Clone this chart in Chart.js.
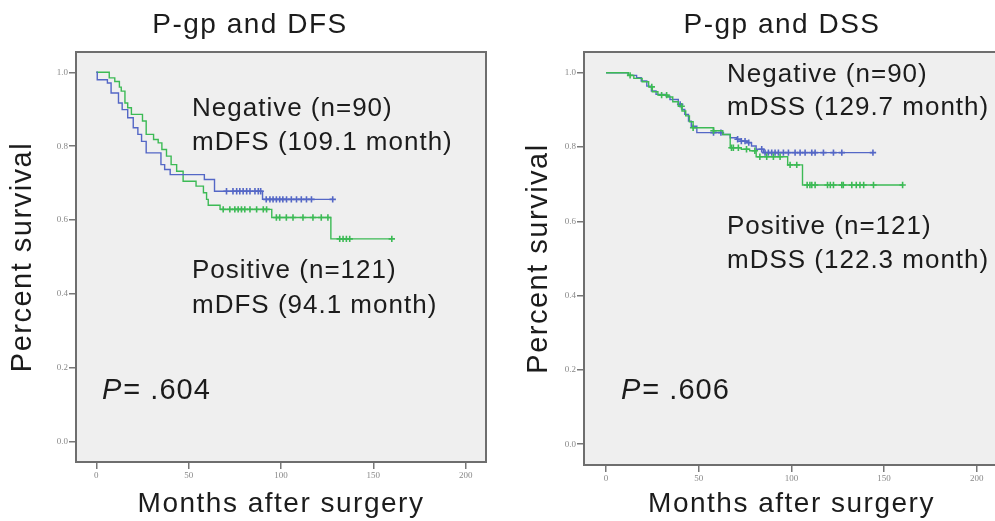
<!DOCTYPE html>
<html>
<head>
<meta charset="utf-8">
<title>P-gp survival curves</title>
<script src="https://cdn.jsdelivr.net/npm/chart.js@4.4.1/dist/chart.umd.min.js"></script>
<style>
  html, body { margin: 0; padding: 0; background: #fff; overflow: hidden; }
  #wrap { position: relative; width: 995px; height: 521px; overflow: hidden; }
  canvas { position: absolute; top: 0; }
  #dfsChart { left: 0; }
  #dssChart { left: 497px; }
</style>
</head>
<body>
<div id="wrap">
  <canvas id="dfsChart" width="497" height="521"></canvas>
  <canvas id="dssChart" width="510" height="521"></canvas>
</div>
<script>
// Kaplan-Meier curves: step times (months) and survival after each step.

const xTicks = [0, 50, 100, 150, 200];
const yTicks = [0, 0.2, 0.4, 0.6, 0.8, 1.0];

// DFS, P-gp negative (blue)
const dfsNegTime = [0, 0.5, 6, 8, 12, 14, 17, 20, 22.5, 24.5, 27, 35, 37, 40, 58.5, 64, 90, 128];
const dfsNegSurv = [1.0, 0.98, 0.971, 0.944, 0.917, 0.899, 0.877, 0.85, 0.832, 0.813, 0.782, 0.75, 0.737, 0.723, 0.71, 0.678, 0.656, 0.656];
const dfsNegCensor = [70.5, 74, 76, 77.7, 79.5, 81.4, 83.2, 85.9, 87.7, 89, 92, 94, 95.7, 97.5, 99.3, 101, 103, 105.6, 108.4, 111, 113.8, 116.5, 128];

// DFS, P-gp positive (green)
const dfsPosTime = [0, 7, 10, 12.5, 13.5, 15.5, 17, 19, 25, 27, 31, 33.5, 35.5, 38, 40.5, 43.5, 47, 54, 58, 59.7, 60.6, 67, 95, 127, 160];
const dfsPosSurv = [1.0, 0.985, 0.975, 0.96, 0.949, 0.917, 0.904, 0.886, 0.868, 0.832, 0.818, 0.809, 0.791, 0.773, 0.75, 0.732, 0.705, 0.692, 0.674, 0.656, 0.64, 0.629, 0.607, 0.549, 0.549];
const dfsPosCensor = [68.7, 72.3, 75, 76.8, 78.6, 80.4, 83.2, 86.8, 90.4, 92.2, 97.5, 99.3, 102.9, 106.5, 111.9, 117.3, 121.8, 125.4, 131.8, 133.6, 135.4, 137.2, 160];

// DSS, P-gp negative (blue)
const dssNegTime = [0, 12, 16.5, 19, 22, 24.5, 27, 32.5, 34.5, 39, 41, 42.5, 44.5, 46, 49, 63, 67, 70.5, 73, 76, 78.5, 81, 85, 144];
const dssNegSurv = [1.0, 0.993, 0.987, 0.978, 0.964, 0.951, 0.942, 0.937, 0.928, 0.915, 0.901, 0.888, 0.87, 0.856, 0.839, 0.834, 0.825, 0.821, 0.816, 0.812, 0.803, 0.794, 0.785, 0.785];
const dssNegCensor = [40, 58, 62, 71, 73, 75, 77, 84, 85.8, 87.6, 89.4, 91.2, 93, 95.7, 98.4, 102, 104.7, 107.4, 111, 112.8, 117.3, 122.7, 127.2, 144];

// DSS, P-gp positive (green)
const dssPosTime = [0, 12, 15, 19.5, 23, 25, 28, 33, 36, 39, 41, 43, 45, 47, 58, 63, 67, 73, 77.5, 81, 98, 106, 160];
const dssPosSurv = [1.0, 0.993, 0.985, 0.976, 0.962, 0.949, 0.94, 0.935, 0.922, 0.91, 0.897, 0.884, 0.868, 0.852, 0.844, 0.834, 0.798, 0.794, 0.79, 0.774, 0.752, 0.698, 0.698];
const dssPosCensor = [13, 24.7, 30, 32.7, 40.8, 47, 58, 67.7, 68.7, 71.4, 75.8, 80.3, 83, 86.7, 90.3, 93.9, 99.3, 102.9, 108.5, 110, 111, 112.8, 119.5, 121, 122.7, 127.2, 128, 132.6, 135, 137, 139, 144.3, 160];

const BLUE = "#5467c6";
const GREEN = "#3cba55";
const SANS = '"Liberation Sans", Arial, sans-serif';

const survAt = (times, survs, t) => {
  let s = survs[0];
  for (let i = 0; i < times.length; i++) {
    if (times[i] <= t) s = survs[i];
  }
  return s;
};

const stepData = (times, survs) => times.map((t, i) => ({ x: t, y: survs[i] }));
const censorData = (times, survs, cens) => cens.map((t) => ({ x: t, y: survAt(times, survs, t) }));

const curve = (label, times, survs, color) => ({
  type: "line",
  label,
  data: stepData(times, survs),
  stepped: "before",
  borderColor: color,
  borderWidth: 1.4,
  pointRadius: 0,
  fill: false,
});

const marks = (label, times, survs, cens, color) => ({
  type: "scatter",
  label,
  data: censorData(times, survs, cens),
  pointStyle: "cross",
  pointRadius: 3.2,
  borderColor: color,
  borderWidth: 1.6,
});

// grey plot panel with a dark frame, as in the SPSS output
const framePlugin = {
  id: "frame",
  beforeDraw(chart) {
    const { ctx, chartArea: a } = chart;
    ctx.letterSpacing = "1.5px";
    ctx.save();
    ctx.fillStyle = "#efefef";
    ctx.fillRect(a.left, a.top, a.right - a.left, a.bottom - a.top);
    ctx.restore();
  },
  afterDatasetsDraw(chart) {
    const { ctx, chartArea: a } = chart;
    ctx.save();
    ctx.strokeStyle = "#6e6e6e";
    ctx.lineWidth = 2;
    ctx.strokeRect(a.left, a.top, a.right - a.left, a.bottom - a.top);
    ctx.restore();
    ctx.letterSpacing = "0px";
  },
};

const textPlugin = {
  id: "panelText",
  afterDraw(chart, args, o) {
    const ctx = chart.ctx;
    ctx.save();
    ctx.fillStyle = "#1c1c1c";
    ctx.textBaseline = "alphabetic";
    ctx.letterSpacing = "1.5px";
    ctx.font = "28px " + SANS;
    ctx.textAlign = "center";
    ctx.fillText(o.title, o.titleX, o.titleY);

    ctx.textAlign = "left";
    ctx.letterSpacing = "1px";
    ctx.font = "26px " + SANS;
    o.notes.forEach((n) => ctx.fillText(n[0], n[1], n[2]));

    ctx.font = "italic 29px " + SANS;
    ctx.fillText("P", o.pX, o.pY);
    const w = ctx.measureText("P").width;
    ctx.font = "29px " + SANS;
    ctx.fillText("= " + o.pValue, o.pX + w + 1, o.pY);
    ctx.restore();
  },
};

const makeOptions = (xMin, xMax, yMin, yMax, yAxisW, xAxisH, padRight, yTitlePad, text) => ({
  responsive: false,
  animation: false,
  devicePixelRatio: 1,
  layout: { padding: { top: 52, right: padRight, left: 0, bottom: 0 } },
  plugins: { legend: { display: false }, tooltip: { enabled: false }, title: { display: false }, panelText: text },
  scales: {
    x: {
      type: "linear",
      min: xMin,
      max: xMax,
      afterBuildTicks: (s) => { s.ticks = xTicks.map((v) => ({ value: v })); },
      afterFit: (s) => { s.height = xAxisH; },
      grid: { drawOnChartArea: false, drawTicks: true, tickLength: 7, color: "#777", lineWidth: 1.5 },
      border: { display: false },
      ticks: { z: 1, padding: 1, maxRotation: 0, color: "#888", font: { family: '"Liberation Serif", serif', size: 9 } },
      title: { display: true, text: "Months after surgery", color: "#1c1c1c", font: { family: SANS, size: 28 }, padding: { top: 0, bottom: 0 } },
    },
    y: {
      type: "linear",
      min: yMin,
      max: yMax,
      afterBuildTicks: (s) => { s.ticks = yTicks.map((v) => ({ value: v })); },
      afterFit: (s) => { s.width = yAxisW; },
      grid: { drawOnChartArea: false, drawTicks: true, tickLength: 7, color: "#777", lineWidth: 1.5 },
      border: { display: false },
      ticks: { z: 1, padding: 1, color: "#888", font: { family: '"Liberation Serif", serif', size: 9 }, callback: (v) => v.toFixed(1) },
      title: { display: true, text: "Percent survival", color: "#1c1c1c", font: { family: SANS, size: 29 }, padding: { top: yTitlePad, bottom: 0 } },
    },
  },
});

document.addEventListener("DOMContentLoaded", () => {
  new Chart(document.getElementById("dfsChart"), {
    type: "scatter",
    data: {
      datasets: [
        curve("Negative", dfsNegTime, dfsNegSurv, BLUE),
        marks("Negative censored", dfsNegTime, dfsNegSurv, dfsNegCensor, BLUE),
        curve("Positive", dfsPosTime, dfsPosSurv, GREEN),
        marks("Positive censored", dfsPosTime, dfsPosSurv, dfsPosCensor, GREEN),
      ],
    },
    options: makeOptions(-11, 211, -0.055, 1.055, 76, 59, 11, 6, {
      title: "P-gp and DFS", titleX: 250, titleY: 33,
      notes: [
        ["Negative (n=90)", 192, 116],
        ["mDFS (109.1 month)", 192, 150],
        ["Positive (n=121)", 192, 278],
        ["mDFS (94.1 month)", 192, 313],
      ],
      pX: 102, pY: 399, pValue: ".604",
    }),
    plugins: [framePlugin, textPlugin],
  });

  new Chart(document.getElementById("dssChart"), {
    type: "scatter",
    data: {
      datasets: [
        curve("Positive", dssPosTime, dssPosSurv, GREEN),
        marks("Positive censored", dssPosTime, dssPosSurv, dssPosCensor, GREEN),
        curve("Negative", dssNegTime, dssNegSurv, BLUE),
        marks("Negative censored", dssNegTime, dssNegSurv, dssNegCensor, BLUE),
      ],
    },
    options: makeOptions(-11.87, 212, -0.056, 1.056, 87, 56, 8, 25, {
      title: "P-gp and DSS", titleX: 285, titleY: 33,
      notes: [
        ["Negative (n=90)", 230, 82],
        ["mDSS (129.7 month)", 230, 115],
        ["Positive (n=121)", 230, 234],
        ["mDSS (122.3 month)", 230, 268],
      ],
      pX: 124, pY: 399, pValue: ".606",
    }),
    plugins: [framePlugin, textPlugin],
  });
});
</script>
</body>
</html>
